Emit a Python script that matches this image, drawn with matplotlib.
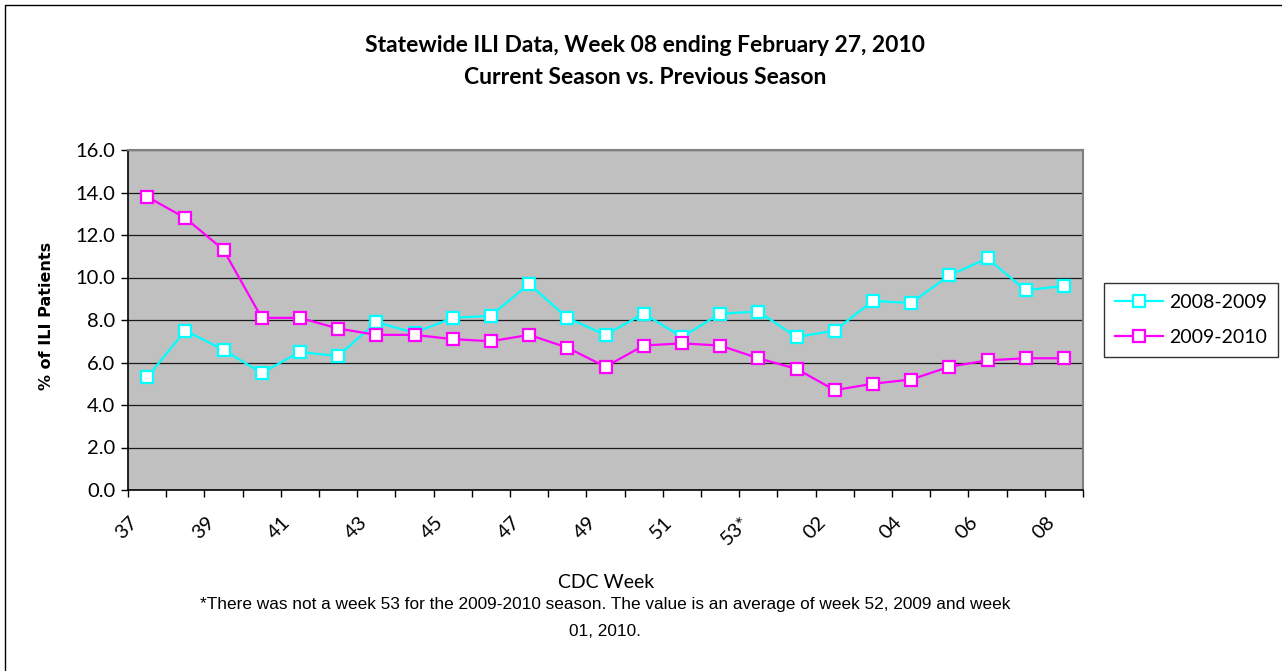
import matplotlib
matplotlib.use("Agg")
import matplotlib.pyplot as plt
import matplotlib.transforms as mtransforms
from matplotlib.lines import Line2D

# CDC weeks, 2 seasons of ILI %
weeks = ["37", "38", "39", "40", "41", "42", "43", "44", "45", "46", "47", "48",
         "49", "50", "51", "52", "53*", "01", "02", "03", "04", "05", "06", "07", "08"]
season_0809 = [5.3, 7.5, 6.6, 5.5, 6.5, 6.3, 7.9, 7.4, 8.1, 8.2, 9.7, 8.1,
               7.3, 8.3, 7.2, 8.3, 8.4, 7.2, 7.5, 8.9, 8.8, 10.1, 10.9, 9.4, 9.6]
season_0910 = [13.8, 12.8, 11.3, 8.1, 8.1, 7.6, 7.3, 7.3, 7.1, 7.0, 7.3, 6.7,
               5.8, 6.8, 6.9, 6.8, 6.2, 5.7, 4.7, 5.0, 5.2, 5.8, 6.1, 6.2, 6.2]
series_names = ["2008-2009", "2009-2010"]
yticks = [0, 2, 4, 6, 8, 10, 12, 14, 16]

W, H = 1282, 671
fig = plt.figure(figsize=(W / 100, H / 100), dpi=100)

# outer chart border (only top and left edges are inside the picture)
fig.lines.append(Line2D([5 / W, 5 / W, 1], [0, 1 - 5 / H, 1 - 5 / H],
                        transform=fig.transFigure, color="black", lw=1))

ax = fig.add_axes([128 / W, 1 - 490 / H, (1083 - 128) / W, (490 - 150) / H])
ax.set_facecolor("#C0C0C0")

x = list(range(len(weeks)))
ax.plot(x, season_0809, color="#00FFFF", lw=1.6, marker="s", ms=8,
        mfc="white", mec="#00FFFF", mew=1.6, label=series_names[0], zorder=3)
ax.plot(x, season_0910, color="#FF00FF", lw=1.6, marker="s", ms=8,
        mfc="white", mec="#FF00FF", mew=1.6, label=series_names[1], zorder=3)

ax.set_xlim(-0.5, len(weeks) - 0.5)
ax.set_ylim(0, 16)
ax.set_yticks(yticks)
ax.set_yticklabels(["%.1f" % v for v in yticks], fontfamily="Lato", fontsize=14.5)
ax.yaxis.grid(True, color="#1a1a1a", lw=0.9)
ax.set_axisbelow(True)
ax.tick_params(axis="y", direction="out", length=5, width=1, pad=4)

# labels every other week, tick marks between categories
ax.set_xticks(x[::2])
ax.set_xticklabels(weeks[::2], fontfamily="Lato", fontsize=14.5, rotation=45,
                   ha="right", va="center", rotation_mode="anchor")
ax.set_xticks([i - 0.5 for i in range(len(weeks) + 1)], minor=True)
ax.tick_params(axis="x", which="major", length=0, pad=21)
ax.tick_params(axis="x", which="minor", direction="out", length=5, width=1)
shift = mtransforms.ScaledTranslation(-12 / 100, 0, fig.dpi_scale_trans)
for lab in ax.get_xticklabels():
    lab.set_transform(lab.get_transform() + shift)

for side in ["left", "bottom"]:
    ax.spines[side].set_color("black")
    ax.spines[side].set_linewidth(1.2)
for side in ["top", "right"]:
    ax.spines[side].set_color("#808080")
    ax.spines[side].set_linewidth(1.5)

fig.text(645 / W, 1 - 45 / H, "Statewide ILI Data, Week 08 ending February 27, 2010",
         ha="center", va="center", fontfamily="Lato", fontweight="bold", fontsize=16.5)
fig.text(645 / W, 1 - 78 / H, "Current Season vs. Previous Season",
         ha="center", va="center", fontfamily="Lato", fontweight="bold", fontsize=16.5)

fig.text(47 / W, 1 - 316 / H, "% of ILI Patients", rotation=90, ha="center",
         va="center", fontfamily="DejaVu Sans", fontweight="bold", fontsize=11.5)

fig.text(606 / W, 1 - 582 / H, "CDC Week", ha="center", va="center",
         fontfamily="Lato", fontsize=14)
fig.text(605 / W, 1 - 605 / H,
         "*There was not a week 53 for the 2009-2010 season. The value is an average of week 52, 2009 and week",
         ha="center", va="center", fontfamily="Liberation Sans", fontsize=12.4)
fig.text(605 / W, 1 - 632 / H, "01, 2010.", ha="center", va="center",
         fontfamily="Liberation Sans", fontsize=12.4)

leg = fig.legend(loc="upper left", bbox_to_anchor=(1104 / W, 1 - 283 / H),
                 prop={"family": "Lato", "size": 14}, frameon=True, fancybox=False,
                 handlelength=2.5, handletextpad=0.3, borderaxespad=0,
                 borderpad=0.55, labelspacing=0.95)
leg.get_frame().set_edgecolor("black")
leg.get_frame().set_linewidth(1)

fig.savefig("out.png", dpi=100)
